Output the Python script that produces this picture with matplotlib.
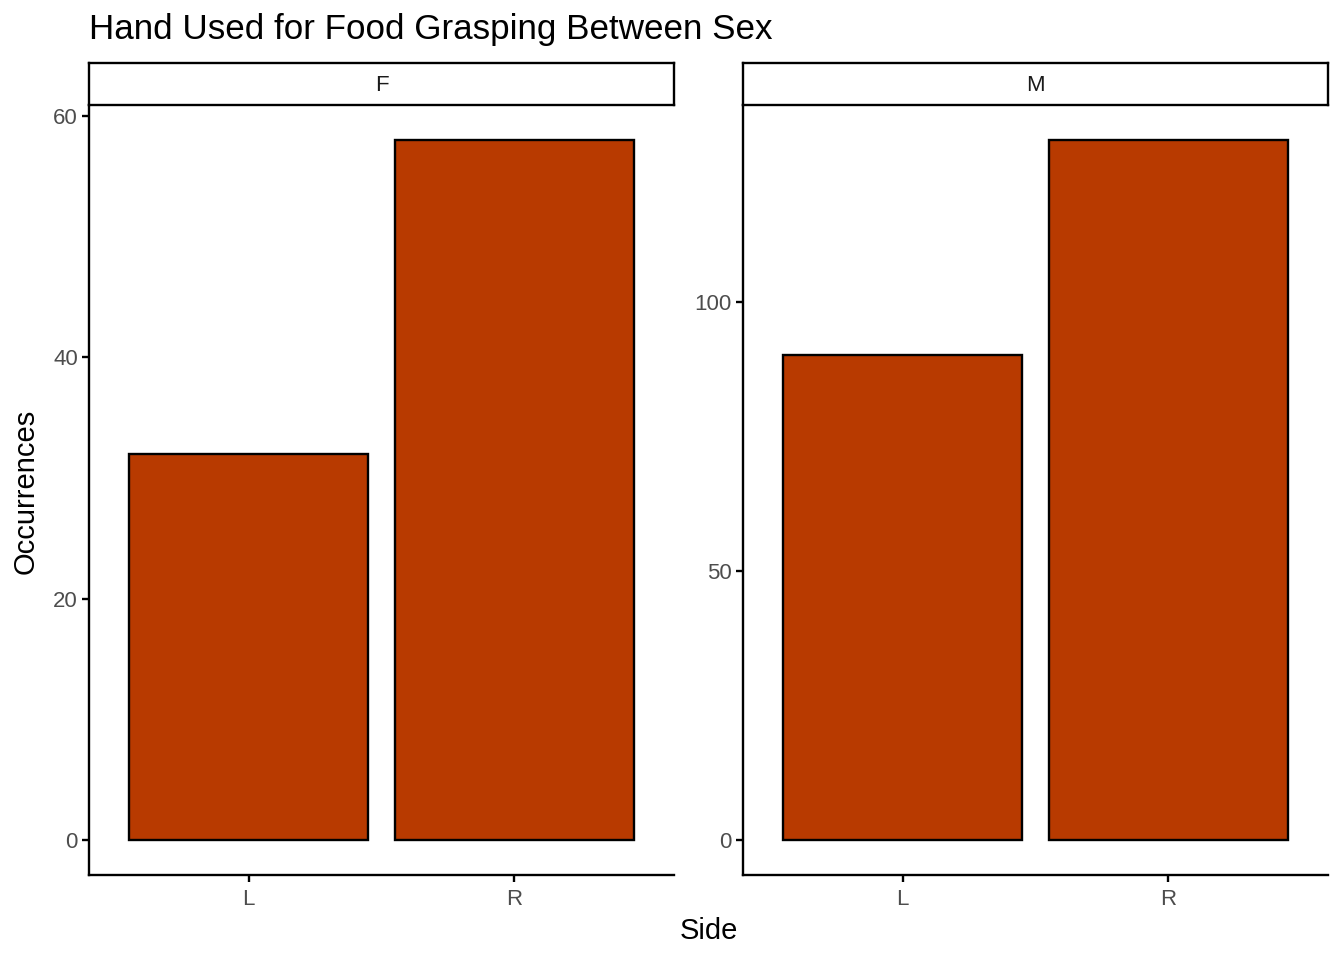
import matplotlib
matplotlib.use("Agg")
import matplotlib.pyplot as plt

plt.rcParams['font.family'] = ['Liberation Sans', 'DejaVu Sans']

sexes = ["F", "M"]
sides = ["L", "R"]
counts_F = [32, 58]
counts_M = [90, 130]
counts = {"F": counts_F, "M": counts_M}
yticks = {"F": [0, 20, 40, 60], "M": [0, 50, 100]}

fill = "#B83A00"
W, H = 1344, 960
fig = plt.figure(figsize=(W / 100, H / 100), dpi=100)

panels = {"F": (89, 674), "M": (743, 1328)}
ptop, pbot = 105, 875
stop = 63

for s in sexes:
    x0, x1 = panels[s]
    ax = fig.add_axes([x0 / W, (H - pbot) / H, (x1 - x0) / W, (pbot - ptop) / H])
    vals = counts[s]
    xs = list(range(1, len(sides) + 1))
    ax.bar(xs, vals, width=0.9, color=fill, edgecolor="black", linewidth=1.7)
    mx = max(vals)
    ax.set_ylim(-0.05 * mx, 1.05 * mx)
    ax.set_xlim(0.4, 2.6)
    ax.set_xticks(xs)
    ax.set_xticklabels(sides)
    ax.set_yticks(yticks[s])
    for sp in ["top", "right"]:
        ax.spines[sp].set_visible(False)
    for sp in ["left", "bottom"]:
        ax.spines[sp].set_linewidth(1.7)
    ax.tick_params(axis="both", length=5, width=1.7, colors="black",
                   labelcolor="#4D4D4D", labelsize=16)
    ax.tick_params(axis="x", pad=5)
    ax.tick_params(axis="y", pad=3)
    # strip
    sax = fig.add_axes([x0 / W, (H - ptop) / H, (x1 - x0) / W, (ptop - stop) / H])
    sax.set_xticks([]); sax.set_yticks([])
    for sp in sax.spines.values():
        sp.set_linewidth(1.7)
        sp.set_color("black")
    sax.text(0.5, 0.46, s, ha="center", va="center", fontsize=16,
             color="#1A1A1A", transform=sax.transAxes)

fig.text(89 / W, 1 - 29 / H, "Hand Used for Food Grasping Between Sex",
         ha="left", va="center", fontsize=25.2, color="black")
fig.text((89 + 1328) / 2 / W, 1 - 931 / H, "Side", ha="center", va="center",
         fontsize=21, color="black")
fig.text(26 / W, 1 - 491 / H, "Occurrences", ha="center", va="center",
         rotation=90, fontsize=21, color="black")

fig.savefig("out.png", dpi=100, facecolor="white")
